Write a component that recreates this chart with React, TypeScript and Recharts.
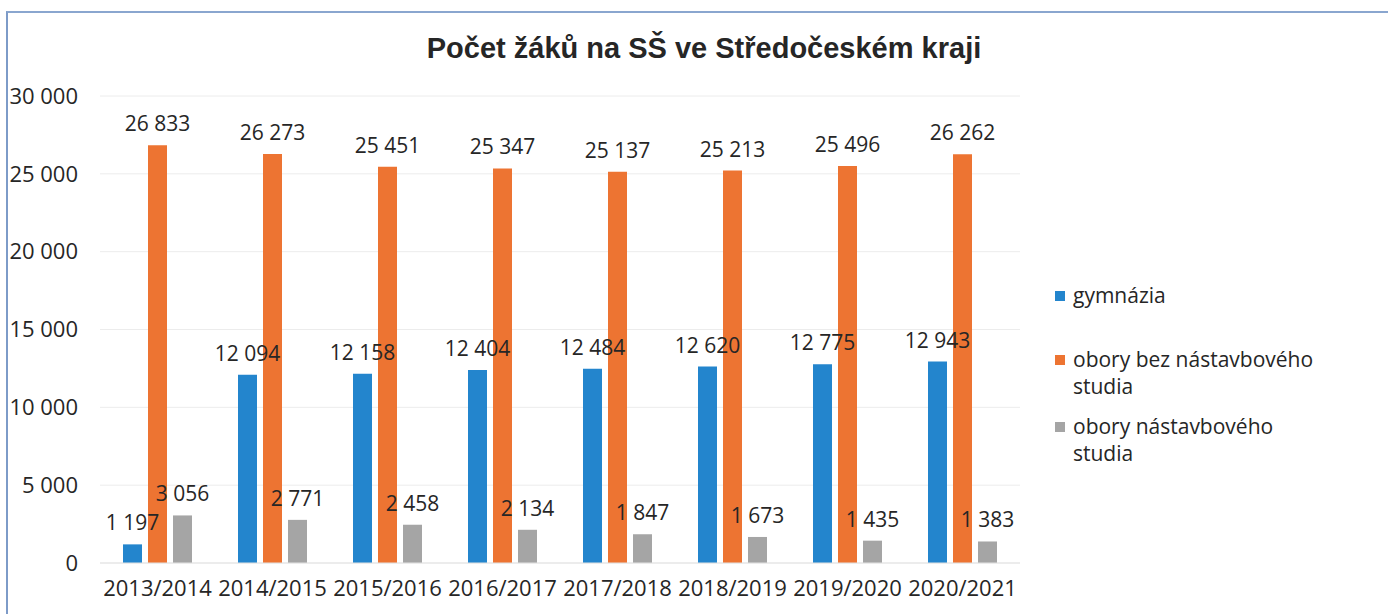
import { Bar, BarChart, CartesianGrid, LabelList, Legend, XAxis, YAxis } from "recharts";

const years = [
  "2013/2014",
  "2014/2015",
  "2015/2016",
  "2016/2017",
  "2017/2018",
  "2018/2019",
  "2019/2020",
  "2020/2021",
];
const gymnazia = [1197, 12094, 12158, 12404, 12484, 12620, 12775, 12943];
const bezNastavby = [26833, 26273, 25451, 25347, 25137, 25213, 25496, 26262];
const nastavba = [3056, 2771, 2458, 2134, 1847, 1673, 1435, 1383];
const yTicks = [0, 5000, 10000, 15000, 20000, 25000, 30000];

const series = [
  { key: "gym", name: "gymnázia", color: "#2385cd", values: gymnazia },
  { key: "bez", name: "obory bez nástavbového studia", color: "#ed7432", values: bezNastavby },
  { key: "nas", name: "obory nástavbového studia", color: "#a5a5a5", values: nastavba },
];

const data = years.map((year, i) => ({
  year,
  gym: gymnazia[i],
  bez: bezNastavby[i],
  nas: nastavba[i],
}));

const font = "'Open Sans', 'Noto Sans', sans-serif";
const fmt = (v: number) => v.toLocaleString("en-US").replace(/,/g, " ");

function ValueLabel(props: any) {
  const { x, y, width, value } = props;
  return (
    <text
      x={x + width / 2}
      y={y - 14}
      textAnchor="middle"
      style={{ fontFamily: font, fontSize: 21, fill: "#262626" }}
    >
      {fmt(value)}
    </text>
  );
}

function LegendBox() {
  const gaps = [37, 13, 0];
  return (
    <div style={{ fontFamily: font, fontSize: 21, color: "#262626", lineHeight: "27px", width: 270 }}>
      {series.map((s, i) => (
        <div key={s.key} style={{ display: "flex", alignItems: "flex-start", marginBottom: gaps[i] }}>
          <span
            style={{
              display: "inline-block",
              width: 10,
              height: 10,
              background: s.color,
              marginTop: 9,
              marginRight: 8,
              flexShrink: 0,
            }}
          />
          <span style={{ width: 250 }}>{s.name}</span>
        </div>
      ))}
    </div>
  );
}

export default function App() {
  return (
    <div style={{ position: "absolute", left: 0, top: 0, width: 1388, height: 614, background: "#fff", overflow: "hidden" }}>
      <div
        style={{
          position: "absolute",
          left: 6,
          top: 11,
          width: 1400,
          height: 620,
          borderLeft: "2px solid #7d9bc8",
          borderTop: "2px solid #8aa6cf",
        }}
      />
      <div
        style={{
          position: "absolute",
          left: 0,
          top: 32,
          width: 1408,
          textAlign: "center",
          fontFamily: "'Liberation Sans', Arial, sans-serif",
          fontWeight: "bold",
          fontSize: 29,
          color: "#262626",
        }}
      >
        Počet žáků na SŠ ve Středočeském kraji
      </div>
      <BarChart
        width={1388}
        height={614}
        data={data}
        margin={{ top: 96, right: 368, left: 0, bottom: 11 }}
        barGap={6}
        barSize={19}
        style={{ position: "absolute", left: 0, top: 0 }}
      >
        <CartesianGrid vertical={false} stroke="#ececec" />
        <XAxis
          dataKey="year"
          height={40}
          tickLine={false}
          axisLine={{ stroke: "#e3e3e3" }}
          tickMargin={11}
          tick={{ fontFamily: font, fontSize: 22, fill: "#262626" }}
          interval={0}
        />
        <YAxis
          width={100}
          domain={[0, 30000]}
          ticks={yTicks}
          tickFormatter={fmt}
          tickLine={false}
          axisLine={false}
          tickMargin={16}
          tick={{ fontFamily: font, fontSize: 22, fill: "#262626" }}
        />
        <Legend
          layout="horizontal"
          verticalAlign="middle"
          align="center"
          content={() => <LegendBox />}
          wrapperStyle={{ left: 1055, top: 282, width: 300, height: 200 }}
        />
        {series.map((s) => (
          <Bar key={s.key} dataKey={s.key} name={s.name} fill={s.color} isAnimationActive={false}>
            <LabelList dataKey={s.key} content={ValueLabel} />
          </Bar>
        ))}
      </BarChart>
    </div>
  );
}
